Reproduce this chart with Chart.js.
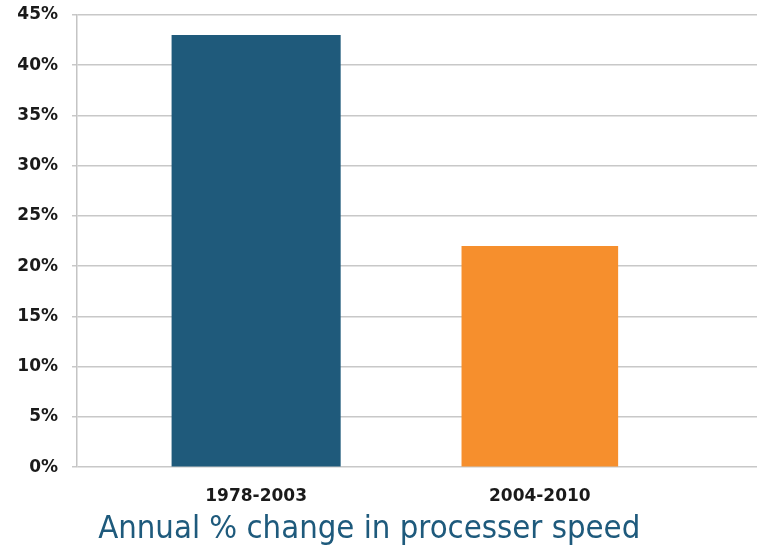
<!DOCTYPE html>
<html>
<head>
<meta charset="utf-8">
<title>Annual % change in processer speed</title>
<script src="https://cdn.jsdelivr.net/npm/chart.js@4/dist/chart.umd.min.js"></script>
<style>
  html, body { margin: 0; padding: 0; background: #ffffff; }
  #wrap { width: 757px; height: 547px; }
</style>
</head>
<body>
<div id="wrap"><canvas id="chart" width="757" height="547"></canvas></div>
<script>
// Periods on the x axis and the annual % change for each
const periods = ['1978-2003', '2004-2010'];
const speedChange = [43, 22];

// Y axis ticks (percent)
const yTicks = [0, 5, 10, 15, 20, 25, 30, 35, 40, 45];

// Bar styling per period
const barColors = ['#1f5a7b', '#f68f2d'];
const barWidths = [0.596, 0.552];

const datasets = periods.map((p, i) => ({
  label: p,
  data: [{ x: i, y: speedChange[i] }],
  backgroundColor: barColors[i],
  borderWidth: 0,
  barPercentage: barWidths[i],
  categoryPercentage: 1.0,
  grouped: false
}));

const tickFont = { family: "'DejaVu Sans', sans-serif", size: 17, weight: 'bold' };

new Chart(document.getElementById('chart'), {
  type: 'bar',
  data: { datasets },
  options: {
    responsive: false,
    animation: false,
    layout: { padding: 0 },
    plugins: {
      legend: { display: false },
      tooltip: { enabled: false },
      title: {
        display: true,
        position: 'bottom',
        // trailing spaces nudge the centred caption slightly left
        text: 'Annual % change in processer speed\u00a0\u00a0',
        color: '#1e5a7c',
        font: { family: "'DejaVu Sans Condensed', 'Liberation Sans', sans-serif", size: 32.6, weight: 'normal', lineHeight: 1.1 },
        padding: { top: 0, bottom: 0 }
      }
    },
    scales: {
      x: {
        type: 'linear',
        offset: false,
        min: -0.6314,
        max: 1.7655,
        grid: { display: false },
        border: { display: false },
        afterBuildTicks: (scale) => {
          scale.ticks = periods.map((_, i) => ({ value: i }));
        },
        afterFit: (scale) => { scale.height = 44; },
        ticks: {
          padding: 11,
          color: '#1a1a1a',
          font: tickFont,
          callback: (v) => periods[v] ?? ''
        }
      },
      y: {
        min: 0,
        max: 45,
        afterBuildTicks: (scale) => {
          scale.ticks = yTicks.map(v => ({ value: v }));
        },
        afterFit: (scale) => {
          scale.width = 77;
          scale.paddingTop = 15;
          scale.paddingBottom = 0;
        },
        grid: { color: '#c8c8c8', lineWidth: 1.5, tickLength: 5 },
        border: { color: '#c4c4c4', width: 1.5 },
        ticks: {
          padding: 14,
          color: '#1a1a1a',
          font: tickFont,
          callback: (v) => v + '%'
        }
      }
    }
  }
});
</script>
</body>
</html>
